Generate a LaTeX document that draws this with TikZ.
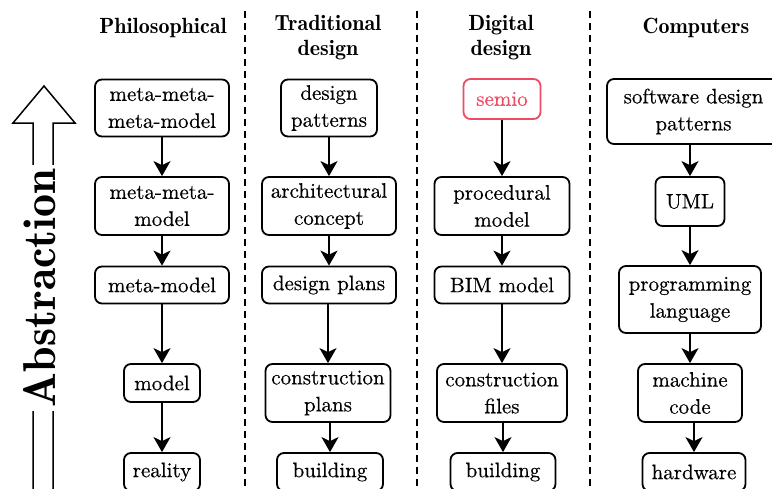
\documentclass[tikz,border=0pt]{standalone}
\usepackage{fontspec}
\newfontfamily\boxfont{lmroman10-regular.otf}[FakeBold=0.4]
\newfontfamily\headfont{lmromandemi10-regular.otf}
\usetikzlibrary{arrows.meta}
\definecolor{semiored}{RGB}{238,75,100}
\begin{document}
\begin{tikzpicture}[x=1pt,y=-1pt,
  box/.style={draw, line width=1.8pt, rounded corners=7pt, inner sep=0pt,
    align=center, font=\boxfont\fontsize{21}{27}\selectfont},
  head/.style={font=\headfont\fontsize{22}{25}\selectfont, align=center, inner sep=0pt},
  link/.style={line width=1.8pt, -{Stealth[length=15pt,width=17pt,inset=4pt]}},
  divider/.style={line width=1.8pt, dash pattern=on 7pt off 5pt},
]
\useasboundingbox (0,0) rectangle (772,488);

% column dividers
\draw[divider] (245,11) -- (245,495);
\draw[divider] (417,11) -- (417,495);
\draw[divider] (590,11) -- (590,495);

% abstraction arrow
\draw[line width=1.5pt] (33,500) -- (33,123) -- (13,123) -- (44,86)
  -- (75,123) -- (53,123) -- (53,500);
\node[fill=white, rotate=90, inner sep=4pt,
  font=\headfont\fontsize{46}{46}\selectfont] (abs) at (40,288) {Abstraction};

% column headers
\node[head, anchor=base] (hphil) at (163,33) {Philosophical};
\node[head] (htrad) at (328,37.5) {Traditional\\design};
\node[head] (hdig) at (501,37.5) {Digital\\design};
\node[head, anchor=base] (hcomp) at (696,33) {Computers};

% philosophical
\node[box, minimum width=134pt, minimum height=57pt] (p1) at (162,108) {meta-meta-\\meta-model};
\node[box, minimum width=134pt, minimum height=58pt] (p2) at (162,206) {meta-meta-\\model};
\node[box, minimum width=134pt, minimum height=37pt] (p3) at (162,285) {meta-model};
\node[box, minimum width=76pt, minimum height=38pt] (p4) at (162,383) {model};
\node[box, minimum width=76pt, minimum height=38pt] (p5) at (162,472) {reality};

% traditional design
\node[box, minimum width=96pt, minimum height=57pt] (t1) at (329,108) {design\\patterns};
\node[box, minimum width=134pt, minimum height=58pt] (t2) at (329,206) {architectural\\concept};
\node[box, minimum width=134pt, minimum height=37pt] (t3) at (329,285) {design plans};
\node[box, minimum width=125pt, minimum height=58pt] (t4) at (328,393) {construction\\plans};
\node[box, minimum width=106pt, minimum height=38pt] (t5) at (330,472) {building};

% digital design
\node[box, draw=semiored, text=semiored, minimum width=77pt, minimum height=40pt] (d1) at (502,99) {semio};
\node[box, minimum width=135pt, minimum height=58pt] (d2) at (502,206) {procedural\\model};
\node[box, minimum width=135pt, minimum height=37pt] (d3) at (502,285) {BIM model};
\node[box, minimum width=130pt, minimum height=58pt] (d4) at (502,393) {construction\\files};
\node[box, minimum width=105pt, minimum height=38pt] (d5) at (503,472) {building};

% computers
\node[box, minimum width=173pt, minimum height=65pt] (c1) at (693.5,111.5) {software design\\patterns};
\node[box, minimum width=69pt, minimum height=49pt] (c2) at (690,201.5) {UML};
\node[box, minimum width=142pt, minimum height=67pt] (c3) at (690,299.5) {programming\\language};
\node[box, minimum width=104pt, minimum height=58pt] (c4) at (690,393) {machine\\code};
\node[box, minimum width=103pt, minimum height=38pt] (c5) at (694,472) {hardware};

% connectors
\foreach \a/\b in {p1/p2,p2/p3,p3/p4,p4/p5,
                   t1/t2,t2/t3,t3/t4,t4/t5,
                   d1/d2,d2/d3,d3/d4,d4/d5,
                   c1/c2,c2/c3,c3/c4,c4/c5}
  \draw[link] (\a.south -| \b.north) -- (\b.north);
\end{tikzpicture}
\end{document}
